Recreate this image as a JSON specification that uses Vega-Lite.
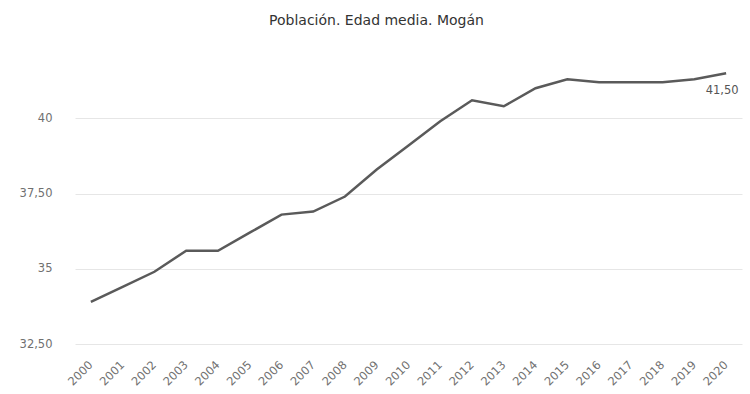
{
  "$schema": "https://vega.github.io/schema/vega-lite/v6.json",
  "width": 667,
  "height": 294,
  "autosize": {"type": "none"},
  "padding": {"left": 75, "top": 50, "right": 8, "bottom": 50},
  "background": "white",
  "title": {
    "text": "Población. Edad media. Mogán",
    "anchor": "middle",
    "font": "DejaVu Sans",
    "fontSize": 14,
    "fontWeight": "normal",
    "color": "#333333",
    "offset": 22,
    "dx": -32
  },
  "config": {
    "view": {"stroke": null},
    "font": "DejaVu Sans",
    "locale": {
      "number": {"decimal": ",", "thousands": ".", "grouping": [3], "currency": ["", " €"]}
    }
  },
  "data": {
    "values": [
      {"year": "2000", "edad": 33.9},
      {"year": "2001", "edad": 34.4},
      {"year": "2002", "edad": 34.9},
      {"year": "2003", "edad": 35.6},
      {"year": "2004", "edad": 35.6},
      {"year": "2005", "edad": 36.2},
      {"year": "2006", "edad": 36.8},
      {"year": "2007", "edad": 36.9},
      {"year": "2008", "edad": 37.4},
      {"year": "2009", "edad": 38.3},
      {"year": "2010", "edad": 39.1},
      {"year": "2011", "edad": 39.9},
      {"year": "2012", "edad": 40.6},
      {"year": "2013", "edad": 40.4},
      {"year": "2014", "edad": 41.0},
      {"year": "2015", "edad": 41.3},
      {"year": "2016", "edad": 41.2},
      {"year": "2017", "edad": 41.2},
      {"year": "2018", "edad": 41.2},
      {"year": "2019", "edad": 41.3},
      {"year": "2020", "edad": 41.5}
    ]
  },
  "encoding": {
    "x": {
      "field": "year",
      "type": "ordinal",
      "scale": {"type": "point", "padding": 0.5},
      "axis": {
        "title": null,
        "domain": false,
        "ticks": false,
        "grid": false,
        "labelAngle": -45,
        "labelAlign": "right",
        "labelBaseline": "middle",
        "labelPadding": 19,
        "labelFontSize": 11.5,
        "labelColor": "#707070",
        "labelFont": "DejaVu Sans"
      }
    },
    "y": {
      "field": "edad",
      "type": "quantitative",
      "scale": {"domain": [32.5, 42.27], "nice": false, "zero": false},
      "axis": {
        "title": null,
        "domain": false,
        "ticks": false,
        "values": [32.5, 35, 37.5, 40],
        "labelExpr": "datum.value % 1 == 0 ? format(datum.value, 'd') : replace(format(datum.value, '.2f'), '.', ',')",
        "labelPadding": 23,
        "labelFontSize": 11.5,
        "labelColor": "#707070",
        "labelFont": "DejaVu Sans",
        "gridColor": "#e6e6e6",
        "gridWidth": 1
      }
    }
  },
  "layer": [
    {
      "mark": {"type": "line", "color": "#5a5a5a", "strokeWidth": 2.5, "interpolate": "linear"}
    },
    {
      "transform": [{"filter": "datum.year == '2020'"}],
      "mark": {"type": "text", "dy": 18, "dx": -4, "fontSize": 11.5, "color": "#555555", "font": "DejaVu Sans", "baseline": "middle", "align": "center"},
      "encoding": {
        "text": {"field": "edad", "type": "quantitative", "format": ".2f"}
      }
    }
  ]
}
